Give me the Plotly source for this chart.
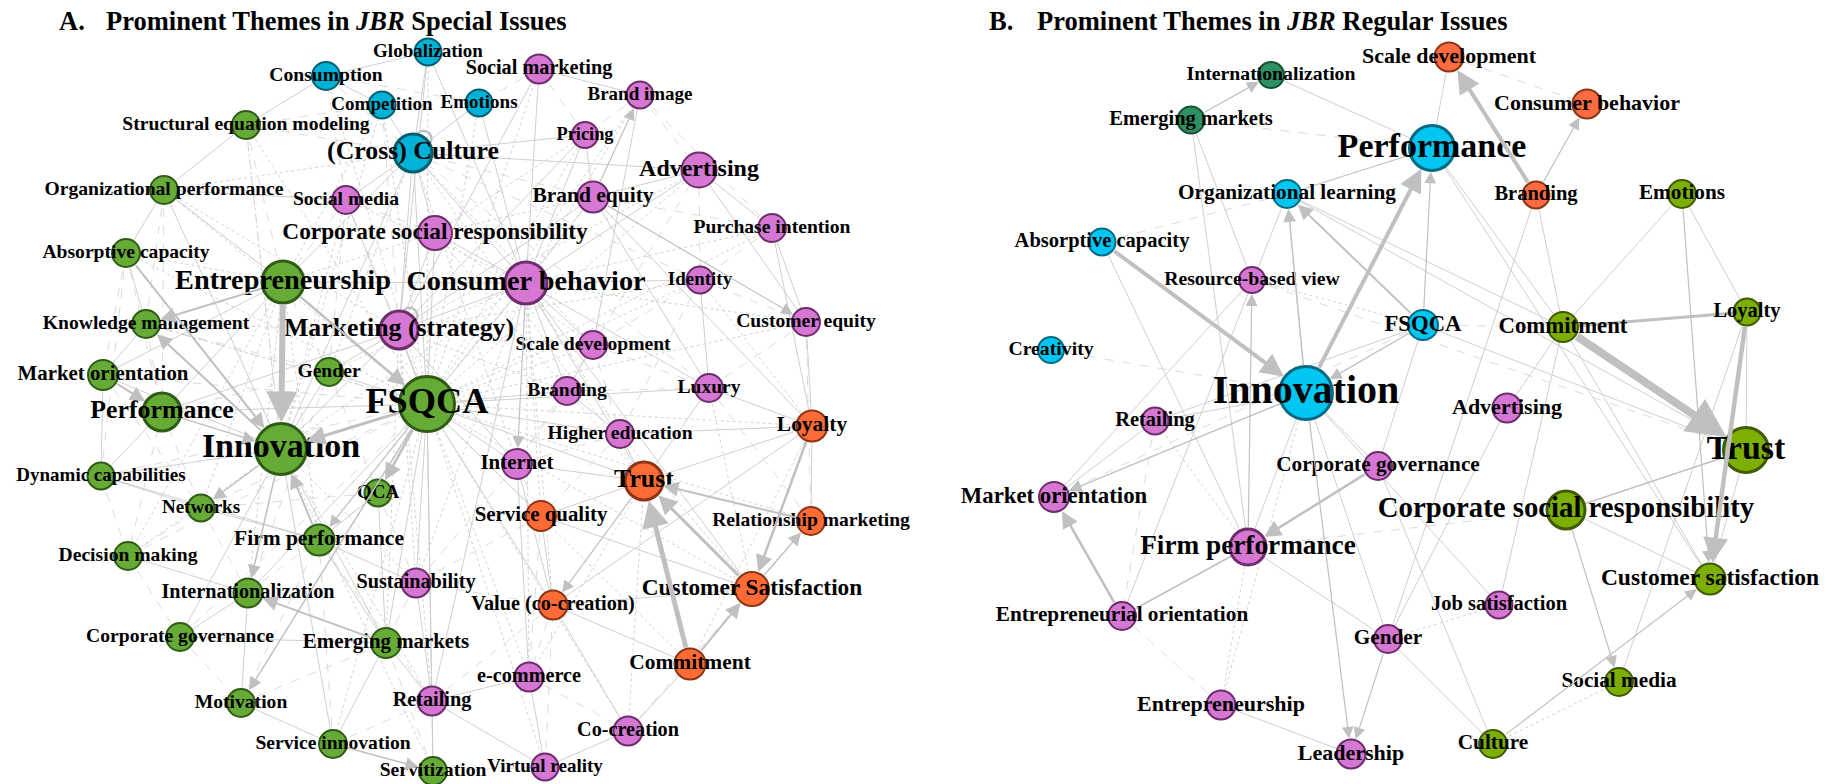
import plotly.graph_objects as go

# ======================= PANEL A : JBR Special Issues =======================
A_names = ["Globalization", "Consumption", "Competition", "Emotions", "(Cross) Culture",
           "Social marketing", "Brand image", "Pricing", "Advertising", "Brand equity",
           "Purchase intention", "Social media", "Corporate social responsibility",
           "Consumer behavior", "Identity", "Customer equity", "Marketing (strategy)",
           "Scale development", "Branding", "Luxury", "Higher education", "Internet",
           "Sustainability", "Retailing", "e-commerce", "Co-creation", "Virtual reality",
           "Loyalty", "Trust", "Service quality", "Relationship marketing",
           "Customer Satisfaction", "Value (co-creation)", "Commitment",
           "Structural equation modeling", "Organizational performance", "Absorptive capacity",
           "Entrepreneurship", "Knowledge management", "Market orientation", "Gender", "FSQCA",
           "Performance", "Innovation", "Dynamic capabilities", "Networks", "QCA",
           "Firm performance", "Decision making", "Internationalization", "Corporate governance",
           "Emerging markets", "Motivation", "Service innovation", "Servitization"]
A_x = [428, 326, 382, 479, 413, 539, 640, 585, 699, 593, 772, 346, 435, 526, 700, 806, 399,
       593, 567, 709, 620, 517, 416, 432, 529, 628, 545, 812, 644, 541, 811, 752, 553, 690,
       246, 164, 126, 283, 146, 103, 329, 427, 162, 281, 101, 201, 378, 319, 128, 248, 180,
       386, 241, 333, 433]
A_y = [52, 76, 105, 103, 153, 69, 95, 135, 170, 197, 228, 200, 233, 283, 280, 322, 330,
       345, 391, 388, 434, 464, 583, 701, 677, 731, 767, 426, 481, 516, 521, 589, 605, 664,
       125, 190, 253, 282, 324, 375, 372, 404, 412, 449, 476, 508, 493, 540, 556, 593, 637,
       643, 703, 744, 771]
A_weight = [27, 28, 27, 27, 38, 29, 27, 26, 35, 31, 28, 28, 34, 42, 27, 28, 38, 28, 28, 28,
            28, 30, 29, 29, 29, 29, 27, 31, 38, 30, 28, 34, 29, 31, 28, 28, 28, 42, 28, 30,
            28, 55, 38, 51, 27, 27, 27, 31, 28, 29, 28, 30, 28, 28, 28]
A_group = ["c"] * 5 + ["p"] * 22 + ["o"] * 7 + ["g"] * 21

# weighted directed links (source, target, weight)
A_arrows = [("Entrepreneurship", "Innovation", 6), ("FSQCA", "Innovation", 3),
            ("Entrepreneurship", "FSQCA", 2.5), ("Entrepreneurship", "Knowledge management", 2),
            ("Market orientation", "Performance", 2), ("Absorptive capacity", "Innovation", 2),
            ("Performance", "Innovation", 1.5), ("Innovation", "Knowledge management", 2),
            ("FSQCA", "QCA", 2.5), ("Innovation", "Networks", 1.5),
            ("Innovation", "Internationalization", 1.5), ("Firm performance", "Innovation", 2),
            ("Emerging markets", "Internationalization", 2), ("FSQCA", "Motivation", 1.5),
            ("Service innovation", "Servitization", 1.5), ("Commitment", "Trust", 5),
            ("Customer Satisfaction", "Trust", 3), ("Relationship marketing", "Trust", 2),
            ("Loyalty", "Customer Satisfaction", 2.5),
            ("Customer Satisfaction", "Relationship marketing", 1.5),
            ("Commitment", "Customer Satisfaction", 2), ("Trust", "Value (co-creation)", 1.2),
            ("Consumer behavior", "Internet", 1.2), ("Brand equity", "Customer equity", 1.2),
            ("Brand equity", "Brand image", 1.2), ("FSQCA", "Firm performance", 1.2)]
A_self = ["(Cross) Culture", "Marketing (strategy)"]

A_solid = [("Globalization", "Consumption"), ("Globalization", "(Cross) Culture"),
           ("Globalization", "Consumer behavior"), ("Globalization", "Marketing (strategy)"),
           ("Consumption", "Competition"), ("Competition", "(Cross) Culture"),
           ("Emotions", "(Cross) Culture"), ("Emotions", "Consumer behavior"),
           ("Social marketing", "Brand image"), ("Social marketing", "Consumer behavior"),
           ("Social marketing", "Marketing (strategy)"), ("Pricing", "Consumer behavior"),
           ("Pricing", "Brand equity"), ("Pricing", "Marketing (strategy)"),
           ("Pricing", "(Cross) Culture"), ("Brand image", "Scale development"),
           ("Advertising", "Consumer behavior"), ("Advertising", "Purchase intention"),
           ("Advertising", "Brand equity"), ("Advertising", "(Cross) Culture"),
           ("Advertising", "Customer equity"), ("Brand equity", "Loyalty"),
           ("Brand equity", "Luxury"), ("Brand equity", "Consumer behavior"),
           ("Purchase intention", "Customer equity"), ("Purchase intention", "Loyalty"),
           ("Identity", "Consumer behavior"), ("Identity", "Luxury"), ("Customer equity", "Loyalty"),
           ("Consumer behavior", "Luxury"), ("Consumer behavior", "Marketing (strategy)"),
           ("Consumer behavior", "FSQCA"), ("Consumer behavior", "Trust"),
           ("Consumer behavior", "Branding"), ("Consumer behavior", "Scale development"),
           ("Consumer behavior", "Corporate social responsibility"),
           ("Consumer behavior", "(Cross) Culture"), ("Consumer behavior", "Retailing"),
           ("Consumer behavior", "Customer Satisfaction"), ("Scale development", "Branding"),
           ("Branding", "Higher education"), ("Higher education", "Loyalty"),
           ("Higher education", "Trust"), ("Luxury", "Trust"), ("Luxury", "Loyalty"),
           ("Internet", "Trust"), ("Internet", "e-commerce"), ("Internet", "Value (co-creation)"),
           ("Service quality", "Customer Satisfaction"), ("Service quality", "Value (co-creation)"),
           ("Trust", "Loyalty"), ("Value (co-creation)", "Co-creation"),
           ("Value (co-creation)", "Customer Satisfaction"), ("Value (co-creation)", "Loyalty"),
           ("e-commerce", "Virtual reality"), ("e-commerce", "Retailing"),
           ("Retailing", "Sustainability"), ("Retailing", "Virtual reality"),
           ("Co-creation", "Virtual reality"), ("FSQCA", "Trust"), ("FSQCA", "Sustainability"),
           ("FSQCA", "Retailing"), ("FSQCA", "Gender"), ("FSQCA", "Performance"),
           ("FSQCA", "(Cross) Culture"), ("FSQCA", "Corporate social responsibility"),
           ("FSQCA", "Marketing (strategy)"), ("FSQCA", "Emerging markets"),
           ("FSQCA", "Servitization"), ("FSQCA", "Internationalization"),
           ("FSQCA", "Higher education"), ("FSQCA", "Branding"), ("FSQCA", "Internet"),
           ("FSQCA", "Value (co-creation)"), ("FSQCA", "Service quality"), ("FSQCA", "Luxury"),
           ("FSQCA", "Social media"), ("Innovation", "Market orientation"),
           ("Innovation", "Dynamic capabilities"), ("Innovation", "Organizational performance"),
           ("Innovation", "Corporate governance"), ("Innovation", "Emerging markets"),
           ("Innovation", "Service innovation"), ("Innovation", "Gender"),
           ("Innovation", "Marketing (strategy)"), ("Innovation", "(Cross) Culture"),
           ("Entrepreneurship", "Organizational performance"), ("Entrepreneurship", "Performance"),
           ("Entrepreneurship", "(Cross) Culture"), ("Entrepreneurship", "Consumer behavior"),
           ("Entrepreneurship", "Market orientation"),
           ("Structural equation modeling", "Organizational performance"),
           ("Structural equation modeling", "Consumption"),
           ("Organizational performance", "Absorptive capacity"),
           ("Organizational performance", "Social media"),
           ("Absorptive capacity", "Knowledge management"), ("Knowledge management", "Market orientation"),
           ("Market orientation", "Dynamic capabilities"), ("Performance", "Dynamic capabilities"),
           ("Dynamic capabilities", "Networks"), ("Dynamic capabilities", "Firm performance"),
           ("Networks", "Firm performance"), ("Decision making", "Internationalization"),
           ("Internationalization", "Corporate governance"), ("Internationalization", "Motivation"),
           ("Corporate governance", "Emerging markets"), ("Emerging markets", "Service innovation"),
           ("Emerging markets", "Retailing"), ("Emerging markets", "Firm performance"),
           ("Motivation", "Service innovation"), ("Servitization", "Retailing"),
           ("Firm performance", "QCA"), ("Firm performance", "Sustainability"),
           ("QCA", "Emerging markets"), ("Gender", "Marketing (strategy)"),
           ("(Cross) Culture", "Social media"), ("(Cross) Culture", "Marketing (strategy)"),
           ("(Cross) Culture", "Corporate social responsibility"),
           ("Corporate social responsibility", "Marketing (strategy)"),
           ("Marketing (strategy)", "Brand equity"), ("Marketing (strategy)", "Internet"),
           ("Marketing (strategy)", "Performance"), ("Trust", "Commitment"),
           ("Loyalty", "Relationship marketing"), ("Service quality", "Trust"),
           ("Value (co-creation)", "Commitment"), ("Co-creation", "Commitment")]

A_dashed = [("Structural equation modeling", "(Cross) Culture"),
            ("Structural equation modeling", "Entrepreneurship"),
            ("Structural equation modeling", "Competition"),
            ("Structural equation modeling", "Innovation"),
            ("Organizational performance", "Knowledge management"),
            ("Organizational performance", "Performance"),
            ("Organizational performance", "Entrepreneurship"),
            ("Absorptive capacity", "Market orientation"), ("Absorptive capacity", "Performance"),
            ("Absorptive capacity", "Dynamic capabilities"), ("Knowledge management", "Performance"),
            ("Knowledge management", "FSQCA"), ("Knowledge management", "Gender"),
            ("Market orientation", "Networks"), ("Market orientation", "FSQCA"),
            ("Performance", "Decision making"), ("Performance", "Networks"), ("Performance", "Gender"),
            ("Dynamic capabilities", "Decision making"), ("Dynamic capabilities", "FSQCA"),
            ("Decision making", "Corporate governance"), ("Decision making", "Networks"),
            ("Decision making", "FSQCA"), ("Networks", "Internationalization"), ("Networks", "FSQCA"),
            ("Networks", "QCA"), ("Corporate governance", "Motivation"),
            ("Corporate governance", "FSQCA"), ("Motivation", "Emerging markets"),
            ("Motivation", "Firm performance"), ("Service innovation", "Retailing"),
            ("Service innovation", "Firm performance"), ("Servitization", "Virtual reality"),
            ("Servitization", "Emerging markets"), ("Internationalization", "Emerging markets"),
            ("Internationalization", "QCA"), ("Internationalization", "Gender"),
            ("Gender", "Social media"), ("Gender", "Entrepreneurship"), ("Gender", "QCA"),
            ("Social media", "Marketing (strategy)"), ("Social media", "Consumption"),
            ("Social media", "Corporate social responsibility"), ("Social media", "Entrepreneurship"),
            ("(Cross) Culture", "Brand equity"), ("(Cross) Culture", "Identity"),
            ("(Cross) Culture", "Luxury"), ("Consumption", "Emotions"),
            ("Consumption", "(Cross) Culture"), ("Competition", "Marketing (strategy)"),
            ("Social marketing", "Pricing"), ("Social marketing", "Emotions"),
            ("Brand image", "Pricing"), ("Brand image", "Advertising"),
            ("Brand image", "Purchase intention"), ("Advertising", "Identity"),
            ("Advertising", "Scale development"), ("Purchase intention", "Identity"),
            ("Purchase intention", "Brand equity"), ("Identity", "Customer equity"),
            ("Identity", "Scale development"), ("Identity", "Higher education"),
            ("Customer equity", "Luxury"), ("Customer equity", "Relationship marketing"),
            ("Scale development", "Luxury"), ("Scale development", "Higher education"),
            ("Scale development", "Internet"), ("Branding", "Internet"), ("Branding", "Luxury"),
            ("Higher education", "Internet"), ("Higher education", "Service quality"),
            ("Internet", "Service quality"), ("Internet", "Sustainability"),
            ("Service quality", "e-commerce"), ("Service quality", "Sustainability"),
            ("Value (co-creation)", "e-commerce"), ("Value (co-creation)", "Sustainability"),
            ("Value (co-creation)", "Retailing"), ("e-commerce", "Co-creation"),
            ("Co-creation", "Customer Satisfaction"), ("Virtual reality", "Value (co-creation)"),
            ("Relationship marketing", "Commitment"), ("Relationship marketing", "Luxury"),
            ("Sustainability", "QCA"), ("Sustainability", "Emerging markets"),
            ("Retailing", "Firm performance")]

A_dotted = [("FSQCA", "Knowledge management"), ("FSQCA", "Absorptive capacity"),
            ("FSQCA", "Organizational performance"), ("FSQCA", "Structural equation modeling"),
            ("FSQCA", "Consumption"), ("FSQCA", "Globalization"), ("FSQCA", "Competition"),
            ("FSQCA", "Emotions"), ("FSQCA", "Social marketing"), ("FSQCA", "Pricing"),
            ("FSQCA", "Brand equity"), ("FSQCA", "Brand image"), ("FSQCA", "Advertising"),
            ("FSQCA", "Scale development"), ("FSQCA", "Identity"), ("FSQCA", "Customer equity"),
            ("FSQCA", "e-commerce"), ("FSQCA", "Co-creation"), ("FSQCA", "Virtual reality"),
            ("FSQCA", "Service innovation"), ("FSQCA", "Commitment"),
            ("FSQCA", "Customer Satisfaction"), ("FSQCA", "Relationship marketing"),
            ("FSQCA", "Loyalty"), ("FSQCA", "Purchase intention"),
            ("Innovation", "Structural equation modeling"), ("Innovation", "Social media"),
            ("Innovation", "Decision making"), ("Innovation", "Sustainability"),
            ("Innovation", "Retailing"), ("Innovation", "Servitization"),
            ("Innovation", "Consumer behavior"), ("Innovation", "Competition"),
            ("Consumer behavior", "Social media"), ("Consumer behavior", "Purchase intention"),
            ("Consumer behavior", "Customer equity"), ("Consumer behavior", "Higher education"),
            ("Consumer behavior", "Service quality"), ("Consumer behavior", "Value (co-creation)"),
            ("Consumer behavior", "e-commerce"), ("Consumer behavior", "Sustainability"),
            ("Consumer behavior", "Gender"), ("Consumer behavior", "Brand image"),
            ("Marketing (strategy)", "Scale development"), ("Marketing (strategy)", "Branding"),
            ("Marketing (strategy)", "Sustainability"), ("Marketing (strategy)", "Retailing"),
            ("Marketing (strategy)", "Emerging markets"),
            ("Marketing (strategy)", "Knowledge management"),
            ("Marketing (strategy)", "Organizational performance"),
            ("Marketing (strategy)", "Advertising"), ("Marketing (strategy)", "Identity"),
            ("(Cross) Culture", "Organizational performance"), ("(Cross) Culture", "Gender"),
            ("(Cross) Culture", "Internet"), ("(Cross) Culture", "Trust"),
            ("(Cross) Culture", "Scale development"), ("Entrepreneurship", "Absorptive capacity"),
            ("Entrepreneurship", "Networks"), ("Entrepreneurship", "Firm performance"),
            ("Entrepreneurship", "Internationalization"), ("Entrepreneurship", "Decision making"),
            ("Entrepreneurship", "Competition"),
            ("Entrepreneurship", "Corporate social responsibility"),
            ("Corporate social responsibility", "Brand equity"),
            ("Corporate social responsibility", "Scale development"),
            ("Corporate social responsibility", "Trust"),
            ("Corporate social responsibility", "Pricing"), ("Trust", "e-commerce"),
            ("Trust", "Co-creation"), ("Loyalty", "Commitment"), ("Loyalty", "Identity"),
            ("Customer Satisfaction", "Luxury"), ("Customer Satisfaction", "Higher education")]

# ======================= PANEL B : JBR Regular Issues =======================
B_names = ["Internationalization", "Emerging markets", "Scale development", "Consumer behavior",
           "Branding", "Performance", "Organizational learning", "Absorptive capacity",
           "Creativity", "FSQCA", "Innovation", "Resource-based view", "Retailing", "Advertising",
           "Corporate governance", "Market orientation", "Firm performance",
           "Entrepreneurial orientation", "Job satisfaction", "Gender", "Entrepreneurship",
           "Leadership", "Emotions", "Commitment", "Loyalty", "Trust",
           "Corporate social responsibility", "Customer satisfaction", "Social media", "Culture"]
B_x = [1271, 1191, 1449, 1587, 1536, 1432, 1287, 1102, 1051, 1423, 1306, 1252, 1155, 1507,
       1378, 1054, 1248, 1122, 1499, 1388, 1221, 1351, 1682, 1563, 1747, 1746, 1566, 1710,
       1619, 1493]
B_y = [75, 120, 57, 104, 195, 148, 194, 242, 350, 325, 393, 280, 421, 408, 466, 497, 547,
       616, 605, 639, 705, 754, 194, 327, 312, 450, 510, 579, 682, 744]
B_weight = [26, 27, 29, 29, 27, 45, 28, 27, 26, 30, 53, 26, 27, 29, 28, 30, 36, 28, 27, 28,
            29, 29, 28, 30, 27, 45, 38, 31, 28, 28]
B_group = ["t", "t", "o", "o", "o", "c", "c", "c", "c", "c", "c"] + ["p"] * 11 + ["y"] * 8

B_arrows = [("Commitment", "Trust", 8), ("Loyalty", "Customer satisfaction", 4.5),
            ("Innovation", "Performance", 4), ("Absorptive capacity", "Innovation", 4),
            ("Branding", "Scale development", 4), ("Branding", "Consumer behavior", 1.2),
            ("FSQCA", "Performance", 1.2), ("Innovation", "Organizational learning", 1.5),
            ("FSQCA", "Organizational learning", 2), ("Emerging markets", "Internationalization", 1.2),
            ("Innovation", "Market orientation", 1.5),
            ("Entrepreneurial orientation", "Market orientation", 2.5),
            ("Corporate governance", "Firm performance", 2.5),
            ("Firm performance", "Resource-based view", 1.2), ("Innovation", "Leadership", 1.2),
            ("Gender", "Leadership", 1.2), ("FSQCA", "Innovation", 1.2),
            ("Emotions", "Customer satisfaction", 1.2),
            ("Corporate social responsibility", "Social media", 1.2),
            ("Culture", "Customer satisfaction", 1.2)]
B_heavy = [("Commitment", "Loyalty", 3), ("Trust", "Corporate social responsibility", 1.5),
           ("Entrepreneurial orientation", "Firm performance", 1.5),
           ("Organizational learning", "Performance", 1.2)]

B_solid = [("Internationalization", "Performance"), ("Emerging markets", "Resource-based view"),
           ("Emerging markets", "Firm performance"), ("Scale development", "Performance"),
           ("Performance", "Commitment"), ("Performance", "Customer satisfaction"),
           ("Branding", "Commitment"), ("Branding", "Gender"), ("Emotions", "Commitment"),
           ("Emotions", "Loyalty"), ("Commitment", "Advertising"),
           ("Commitment", "Customer satisfaction"), ("Commitment", "Job satisfaction"),
           ("Organizational learning", "Commitment"), ("Organizational learning", "Trust"),
           ("Organizational learning", "Entrepreneurial orientation"), ("FSQCA", "Trust"),
           ("FSQCA", "Retailing"), ("FSQCA", "Corporate governance"),
           ("Innovation", "Firm performance"), ("Innovation", "Retailing"),
           ("Innovation", "Gender"), ("Innovation", "Corporate governance"),
           ("Innovation", "Job satisfaction"), ("Absorptive capacity", "Firm performance"),
           ("Resource-based view", "Market orientation"), ("Retailing", "Market orientation"),
           ("Entrepreneurship", "Leadership"), ("Firm performance", "Gender"),
           ("Gender", "Advertising"), ("Gender", "Culture"), ("Culture", "Corporate governance"),
           ("Social media", "Loyalty"), ("Corporate social responsibility", "Customer satisfaction"),
           ("Trust", "Customer satisfaction"), ("Loyalty", "Trust")]
B_dashed = [("Creativity", "Innovation"), ("Emerging markets", "Performance"),
            ("Scale development", "Consumer behavior"), ("FSQCA", "Commitment"),
            ("Firm performance", "Corporate social responsibility"),
            ("Entrepreneurship", "Entrepreneurial orientation"), ("Retailing", "Entrepreneurial orientation"),
            ("FSQCA", "Market orientation"), ("Resource-based view", "Trust"),
            ("Absorptive capacity", "Organizational learning")]
B_dotted = [("Culture", "Social media"), ("Gender", "Job satisfaction"),
            ("Entrepreneurship", "Firm performance"), ("FSQCA", "Resource-based view"),
            ("Retailing", "Firm performance"), ("Innovation", "Entrepreneurship")]

TITLE_A = ("A.", "Prominent Themes in <i>JBR</i> Special Issues")
TITLE_B = ("B.", "Prominent Themes in <i>JBR</i> Regular Issues")

# ------------------------------- styling -------------------------------
FILL = {"A": {"c": "#00B3D6", "p": "#D577D3", "o": "#FF6B35", "g": "#66AB35"},
        "B": {"c": "#00C6F2", "p": "#D577D3", "o": "#FF6B40", "t": "#2E9163", "y": "#7DAE02"}}
EDGE = {"A": {"c": "#045E72", "p": "#6E2C6D", "o": "#8C3515", "g": "#2E5C16"},
        "B": {"c": "#036A82", "p": "#6E2C6D", "o": "#8C3515", "t": "#185236", "y": "#3F5A00"}}
FONT = "Liberation Serif, Times New Roman, serif"
LINE_GREY = "#c9c9c9"
ARROW_GREY = "#c0c0c0"

fig = go.Figure()
annotations = []
shapes = []


def add_panel(key, names, xs, ys, ws, groups, solid, dashed, dotted, arrows, heavy,
              selfloops, fbase, fslope):
    pos = {n: (x, y) for n, x, y in zip(names, xs, ys)}
    rad = {n: w / 2 for n, w in zip(names, ws)}

    def seg(pairs):
        lx, ly = [], []
        for a, b in pairs:
            lx += [pos[a][0], pos[b][0], None]
            ly += [pos[a][1], pos[b][1], None]
        return lx, ly

    for pairs, dash, width, col in [(dotted, "dot", 0.9, "#cdcdcd"),
                                    (dashed, "dash", 0.8, "#d2d2d2"),
                                    (solid, "solid", 0.9, LINE_GREY)]:
        lx, ly = seg(pairs)
        fig.add_trace(go.Scatter(x=lx, y=ly, mode="lines", hoverinfo="skip",
                                 line=dict(color=col, width=width, dash=dash),
                                 showlegend=False))
    for a, b, w in heavy:
        lx, ly = seg([(a, b)])
        fig.add_trace(go.Scatter(x=lx, y=ly, mode="lines", hoverinfo="skip",
                                 line=dict(color=ARROW_GREY, width=w), showlegend=False))
    for n in selfloops:
        x, y = pos[n]
        r = rad[n]
        cx, cy = x + 0.55 * r, y - 0.75 * r
        shapes.append(dict(type="circle", xref="x", yref="y", x0=cx - 8, x1=cx + 8,
                           y0=cy - 8, y1=cy + 8, line=dict(color=ARROW_GREY, width=2.5),
                           layer="below"))
    for a, b, w in arrows:
        head = 7 + 4 * w
        annotations.append(dict(x=pos[b][0], y=pos[b][1], ax=pos[a][0], ay=pos[a][1],
                                xref="x", yref="y", axref="x", ayref="y", text="",
                                showarrow=True, arrowhead=2, arrowwidth=w,
                                arrowsize=head / (5.0 * w), arrowcolor=ARROW_GREY,
                                standoff=rad[b] + 1, startstandoff=rad[a]))
    fig.add_trace(go.Scatter(
        x=xs, y=ys, mode="markers", hoverinfo="text", text=names, showlegend=False,
        marker=dict(size=ws, opacity=1, color=[FILL[key][g] for g in groups],
                    line=dict(color=[EDGE[key][g] for g in groups],
                              width=[3 if w >= 36 else 2 for w in ws]))))
    fig.add_trace(go.Scatter(
        x=xs, y=ys, mode="text", hoverinfo="skip", showlegend=False,
        text=["<b>%s</b>" % n for n in names], textposition="middle center",
        textfont=dict(family=FONT, color="#000000",
                      size=[fbase + fslope * (w - 27) for w in ws])))


add_panel("A", A_names, A_x, A_y, A_weight, A_group, A_solid, A_dashed, A_dotted,
          A_arrows, [], A_self, 19, 0.62)
add_panel("B", B_names, B_x, B_y, B_weight, B_group, B_solid, B_dashed, B_dotted,
          B_arrows, B_heavy, [], 20.5, 0.75)

for (lab, txt), x0, x1 in [(TITLE_A, 57, 104), (TITLE_B, 987, 1035)]:
    annotations.append(dict(x=x0, y=21, xref="x", yref="y", text="<b>%s</b>" % lab,
                            showarrow=False, xanchor="left", yanchor="middle",
                            font=dict(family=FONT, size=26.5, color="#000000")))
    annotations.append(dict(x=x1, y=21, xref="x", yref="y", text="<b>%s</b>" % txt,
                            showarrow=False, xanchor="left", yanchor="middle",
                            font=dict(family=FONT, size=26.5, color="#000000")))

fig.update_layout(
    width=1840, height=784, margin=dict(l=0, r=0, t=0, b=0),
    paper_bgcolor="white", plot_bgcolor="white",
    xaxis=dict(range=[0, 1840], visible=False, fixedrange=True),
    yaxis=dict(range=[784, 0], visible=False, fixedrange=True),
    annotations=annotations, shapes=shapes, showlegend=False,
)

fig.write_html("out.html", config={"displayModeBar": False},
               post_script="document.body.style.margin='0';document.body.style.overflow='hidden';")
